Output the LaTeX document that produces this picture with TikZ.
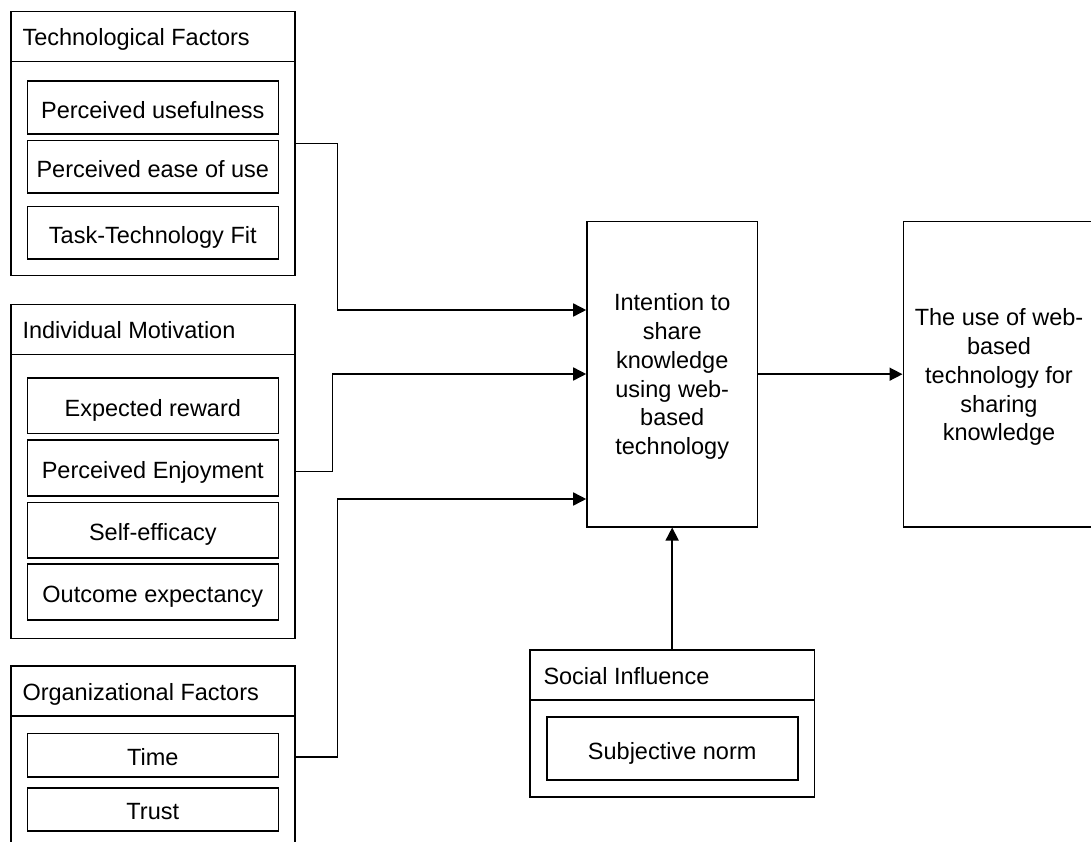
\documentclass[tikz,border=0pt]{standalone}
\usepackage{fontspec}
\setmainfont{Liberation Sans}
\usetikzlibrary{arrows.meta,fit}
\tikzset{
  box/.style={draw=black, line width=1.6pt, inner sep=0pt, fit={#1}},
  boxtext/.style={inner sep=0pt, font={\fontsize{23.5}{28.7}\selectfont}, text height=21pt, text depth=0pt},
  hdr/.style={anchor=base west, inner sep=0pt, font={\fontsize{23.5}{28.7}\selectfont}},
  multi/.style={inner sep=0pt, align=center, font={\fontsize{23.5}{28.7}\selectfont}},
  sep/.style={line width=1.6pt},
  arr/.style={line width=1.6pt, -{Triangle[length=13pt,width=13pt]}},
}
\begin{document}
\begin{tikzpicture}[x=1pt,y=-1pt]
\useasboundingbox (0,0) rectangle (1091,842);
\clip (0,0) rectangle (1091,842);

% Technological Factors
\node[box={(10.7,11.7) (295,275.3)}] (tech) {};
\draw[sep] (10.7,61.7) -- (295,61.7);
\node[hdr] (techT) at (22.3,45.7) {Technological Factors};
\node[box={(27.3,81) (278.3,134.3)}] (pu) {};
\node[boxtext] (puT) at (pu.center) {Perceived usefulness};
\node[box={(27.3,140.7) (278.3,193.3)}] (peu) {};
\node[boxtext] (peuT) at (peu.center) {Perceived ease of use};
\node[box={(27.3,206.7) (278.3,259)}] (ttf) {};
\node[boxtext] (ttfT) at (ttf.center) {Task-Technology Fit};

% Individual Motivation
\node[box={(10.7,304.3) (295,638.3)}] (motiv) {};
\draw[sep] (10.7,354.3) -- (295,354.3);
\node[hdr] (motivT) at (22.3,338.3) {Individual Motivation};
\node[box={(27.3,377.7) (278.3,433.3)}] (er) {};
\node[boxtext] (erT) at (er.center) {Expected reward};
\node[box={(27.3,440) (278.3,496)}] (pe) {};
\node[boxtext] (peT) at (pe.center) {Perceived Enjoyment};
\node[box={(27.3,502.3) (278.3,557.7)}] (se) {};
\node[boxtext] (seT) at (se.center) {Self-efficacy};
\node[box={(27.3,564) (278.3,620)}] (oe) {};
\node[boxtext] (oeT) at (oe.center) {Outcome expectancy};

% Organizational Factors
\node[box={(10.7,666) (295,848)}] (org) {};
\draw[sep] (10.7,716) -- (295,716);
\node[hdr] (orgT) at (22.3,700.5) {Organizational Factors};
\node[box={(27.3,733.3) (278.3,776.7)}] (time) {};
\node[boxtext] (timeT) at (time.center) {Time};
\node[box={(27.3,788) (278.3,830.7)}] (trust) {};
\node[boxtext] (trustT) at (trust.center) {Trust};

% Intention
\node[box={(587,221.7) (757.3,526.7)}] (intention) {};
\node[multi] (intentionT) at (672.2,376.6) {Intention to\\share\\knowledge\\using web-\\based\\technology};

% Use
\node[box={(903.3,221.7) (1093,526.7)}] (use) {};
\node[multi] (useT) at (999,377.3) {The use of web-\\based\\technology for\\sharing\\knowledge};

% Social Influence
\node[box={(530,650) (814.3,797)}] (social) {};
\draw[sep] (530,700) -- (814.3,700);
\node[hdr] (socialT) at (543.3,684) {Social Influence};
\node[box={(546.7,717) (797.7,780)}] (sn) {};
\node[boxtext] (snT) at (sn.center) {Subjective norm};

% connectors
\coordinate (y1) at (0,310);
\coordinate (y2) at (0,374);
\coordinate (y3) at (0,499);
\draw[arr] (tech.east) -| (337.3,310) -- (intention.west |- y1);
\draw[arr] (motiv.east) -| (332.3,374) -- (intention.west |- y2);
\draw[arr] (org.east) -| (337.3,499) -- (intention.west |- y3);
\draw[arr] (intention.east) -- (use.west);
\draw[arr] (social.north) -- (intention.south);
\end{tikzpicture}
\end{document}
